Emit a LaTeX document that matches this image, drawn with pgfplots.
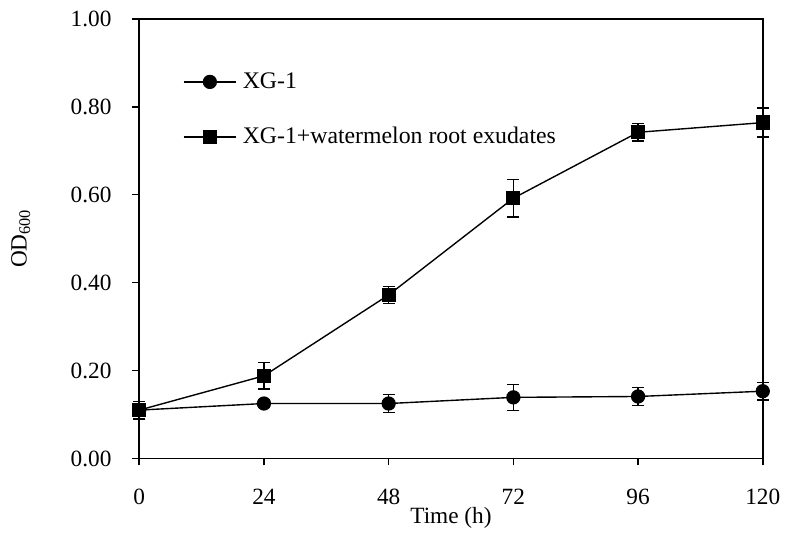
\documentclass[border=0pt]{standalone}
\usepackage{pgfplots}
\pgfplotsset{compat=1.18}
\usepackage{fontspec}
\setmainfont{Liberation Serif}
\begin{document}
\fontsize{23.5}{28}\selectfont
\begin{tikzpicture}
\begin{axis}[
    scale only axis,
    width=627bp, height=442bp,
    xmin=0, xmax=120, ymin=0, ymax=1,
    xtick={0,24,48,72,96,120},
    ytick={0,0.2,0.4,0.6,0.8,1.0},
    yticklabel style={xshift=-13pt, /pgf/number format/fixed, /pgf/number format/fixed zerofill, /pgf/number format/precision=2},
    xticklabel style={yshift=-16pt},
    /pgf/number format/assume math mode=true,
    tick pos=left, tick align=outside,
    major tick length=7pt,
    tick style={line width=1.5pt, black},
    axis line style={line width=1.5pt},
    clip=false,
    xlabel={Time (h)},
    ylabel={OD\textsubscript{600}},
    xlabel style={anchor=north, yshift=13pt},
    ylabel style={at={(axis description cs:-0.19,0.5)}, anchor=center},
    legend cell align=left,
    legend style={draw=none, fill=none, at={(rel axis cs:0.065,0.888)}, anchor=north west,
        row sep=32pt, font=\fontsize{24}{28}\selectfont},
    legend image code/.code={\draw[line width=1.4pt, mark repeat=2,mark phase=2] plot coordinates {(0pt,0pt) (26.5pt,0pt) (53pt,0pt)};
        \path (57pt,0pt);},
    every axis plot/.append style={black, line width=1.4pt},
    error bars/y dir=both, error bars/y explicit,
    error bars/error bar style={line width=1.3pt},
    error bars/error mark options={rotate=90, mark size=6pt, line width=1.3pt},
]
\addplot[mark=*, mark size=6.5pt] coordinates {
    (0,0.110) +- (0,0.020)
    (24,0.125) +- (0,0.008)
    (48,0.125) +- (0,0.020)
    (72,0.139) +- (0,0.030)
    (96,0.141) +- (0,0.020)
    (120,0.153) +- (0,0.020)
};
\addlegendentry{XG-1}
\addplot[mark=square*, mark size=6.5pt] coordinates {
    (0,0.110) +- (0,0.020)
    (24,0.188) +- (0,0.030)
    (48,0.372) +- (0,0.020)
    (72,0.592) +- (0,0.043)
    (96,0.742) +- (0,0.020)
    (120,0.764) +- (0,0.033)
};
\addlegendentry{XG-1+watermelon root exudates}
\path (rel axis cs:-0.2233,-0.2014) rectangle (rel axis cs:1.0335,1.043);
\end{axis}
\end{tikzpicture}
\end{document}
